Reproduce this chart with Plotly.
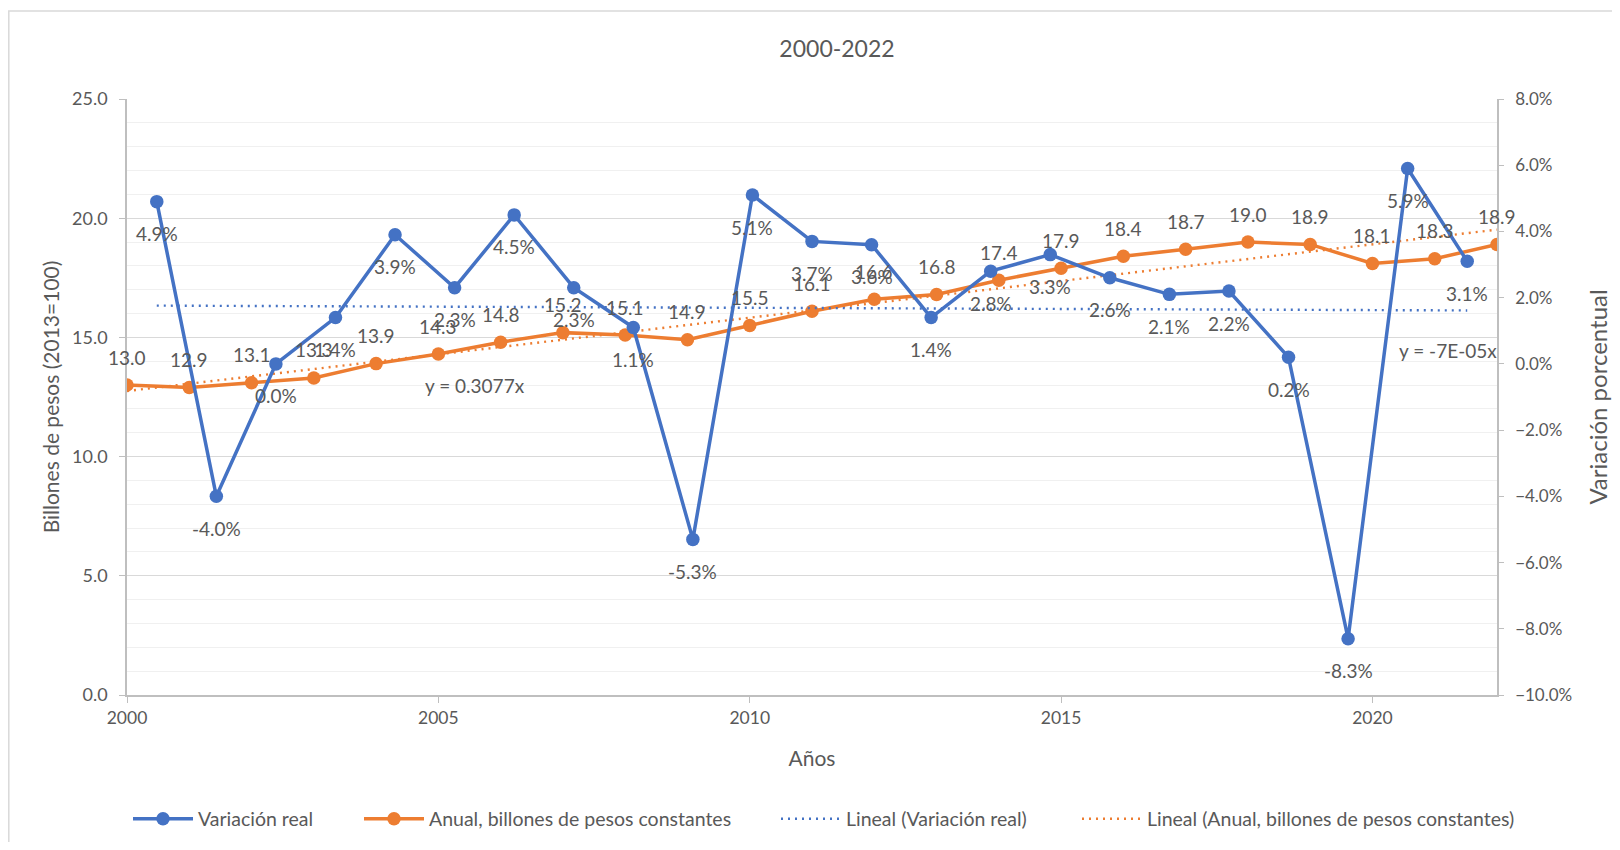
import numpy as np
import plotly.graph_objects as go

# ---------------- data ----------------
years = list(range(2000, 2023))
anual = [13.0, 12.9, 13.1, 13.3, 13.9, 14.3, 14.8, 15.2, 15.1, 14.9, 15.5, 16.1,
         16.6, 16.8, 17.4, 17.9, 18.4, 18.7, 19.0, 18.9, 18.1, 18.3, 18.9]
variacion = [4.9, -4.0, 0.0, 1.4, 3.9, 2.3, 4.5, 2.3, 1.1, -5.3, 5.1, 3.7,
             3.6, 1.4, 2.8, 3.3, 2.6, 2.1, 2.2, 0.2, -8.3, 5.9, 3.1]
x_ticks = [2000, 2005, 2010, 2015, 2020]
eq_anual = "y = 0.3077x"
eq_var = "y = -7E-05x"

BLUE = "#4472C4"
ORANGE = "#ED7D31"
TXT = "#595959"
FONT = "Lato"

# linear trends (least squares)
ya = np.array(years, dtype=float)
pa = np.polyfit(ya, anual, 1)
pv = np.polyfit(ya, variacion, 1)
trend_anual = list(np.polyval(pa, ya))
trend_var = list(np.polyval(pv, ya))

FW, FH = 1604, 834
L, R, T, B = 119, 1489, 91, 687
W, H = R - L, B - T
def px(x):
    return (x - L) / W
def py(y):
    return (B - y) / H

fig = go.Figure()
fig.add_trace(go.Scatter(x=years, y=variacion, name="Variación real", mode="lines+markers",
                         xaxis="x2", yaxis="y2", legend="legend",
                         line=dict(color=BLUE, width=3.5), marker=dict(size=13.5, color=BLUE)))
fig.add_trace(go.Scatter(x=years, y=anual, name="Anual, billones de pesos constantes",
                         mode="lines+markers", xaxis="x", yaxis="y", legend="legend2",
                         line=dict(color=ORANGE, width=3.5), marker=dict(size=13.5, color=ORANGE)))
fig.add_trace(go.Scatter(x=years, y=trend_var, name="Lineal (Variación real)", mode="lines",
                         xaxis="x2", yaxis="y2", legend="legend3",
                         line=dict(color=BLUE, width=2.4, dash="2px,5px")))
fig.add_trace(go.Scatter(x=years, y=trend_anual, name="Lineal (Anual, billones de pesos constantes)",
                         mode="lines", xaxis="x", yaxis="y", legend="legend4",
                         line=dict(color=ORANGE, width=2.4, dash="2px,5px")))

ann = []
for x, v in zip(years, anual):
    ann.append(dict(x=x, y=v, xref="x", yref="y", text=f"{v:.1f}", showarrow=False,
                    yshift=28, font=dict(size=19, color=TXT, family=FONT)))
for x, v in zip(years, variacion):
    ann.append(dict(x=x, y=v, xref="x2", yref="y2", text=f"{v:.1f}%", showarrow=False,
                    yshift=-32, font=dict(size=19, color=TXT, family=FONT)))
ann.append(dict(x=2005.59, y=13.0, xref="x", yref="y", text=eq_anual, showarrow=False,
                font=dict(size=19, color=TXT, family=FONT)))
ann.append(dict(x=2021.21, y=14.43, xref="x", yref="y", text=eq_var, showarrow=False,
                font=dict(size=19, color=TXT, family=FONT)))

shapes = [
    dict(type="rect", xref="paper", yref="paper", x0=px(0.8), x1=px(1700), y0=py(900), y1=py(3),
         line=dict(color="#d9d9d9", width=1.5), fillcolor="rgba(0,0,0,0)", layer="below"),
]

leg_y = py(811)
def legend_at(x_sym):
    return dict(orientation="h", x=px(x_sym - 6), xanchor="left", y=leg_y, yanchor="middle",
                font=dict(size=19.5, color=TXT, family=FONT), itemwidth=60,
                bgcolor="rgba(0,0,0,0)")

fig.update_layout(
    width=FW, height=FH,
    paper_bgcolor="white", plot_bgcolor="white",
    margin=dict(l=L, r=FW - R, t=T, b=FH - B, autoexpand=False),
    font=dict(family=FONT, color=TXT, size=17),
    title=dict(text="2000-2022", x=829 / FW, xref="container", xanchor="center",
               y=1 - 41 / FH, yref="container", yanchor="middle",
               font=dict(size=23, color=TXT, family=FONT)),
    xaxis=dict(range=[2000, 2022], tickvals=x_ticks, ticks="outside", ticklen=6,
               tickcolor="#bfbfbf", showline=True, linecolor="#bfbfbf", linewidth=1.5,
               showgrid=False, zeroline=False, tickfont=dict(size=17.5),
               title=dict(text="Años", standoff=25, font=dict(size=21))),
    yaxis=dict(range=[0, 25], dtick=5, tickformat=".1f", ticks="outside", ticklen=6,
               tickcolor="#bfbfbf", showline=True, linecolor="#bfbfbf", linewidth=1.5,
               showgrid=True, gridcolor="#d9d9d9", gridwidth=1.2, zeroline=False,
               minor=dict(dtick=1, showgrid=True, gridcolor="#f0f0f0", gridwidth=1),
               ticklabelstandoff=8, tickfont=dict(size=18),
               title=dict(text="Billones de pesos (2013=100)", standoff=7, font=dict(size=21))),
    xaxis2=dict(range=[1999.5, 2022.5], overlaying="x", anchor="y2", visible=False),
    yaxis2=dict(range=[-10, 8], dtick=2, tickformat=".1f", ticksuffix="%", overlaying="y",
                side="right", anchor="x2", ticks="outside", ticklen=5, tickcolor="#bfbfbf",
                showline=True, linecolor="#bfbfbf", linewidth=1.5, showgrid=False,
                zeroline=False, ticklabelstandoff=8, tickfont=dict(size=17),
                title=dict(text="Variación porcentual", standoff=21, font=dict(size=24))),
    legend=legend_at(126),
    legend2=legend_at(357),
    legend3=legend_at(774),
    legend4=legend_at(1075),
    annotations=ann,
    shapes=shapes,
    showlegend=True,
)

fig.write_html("out.html")
